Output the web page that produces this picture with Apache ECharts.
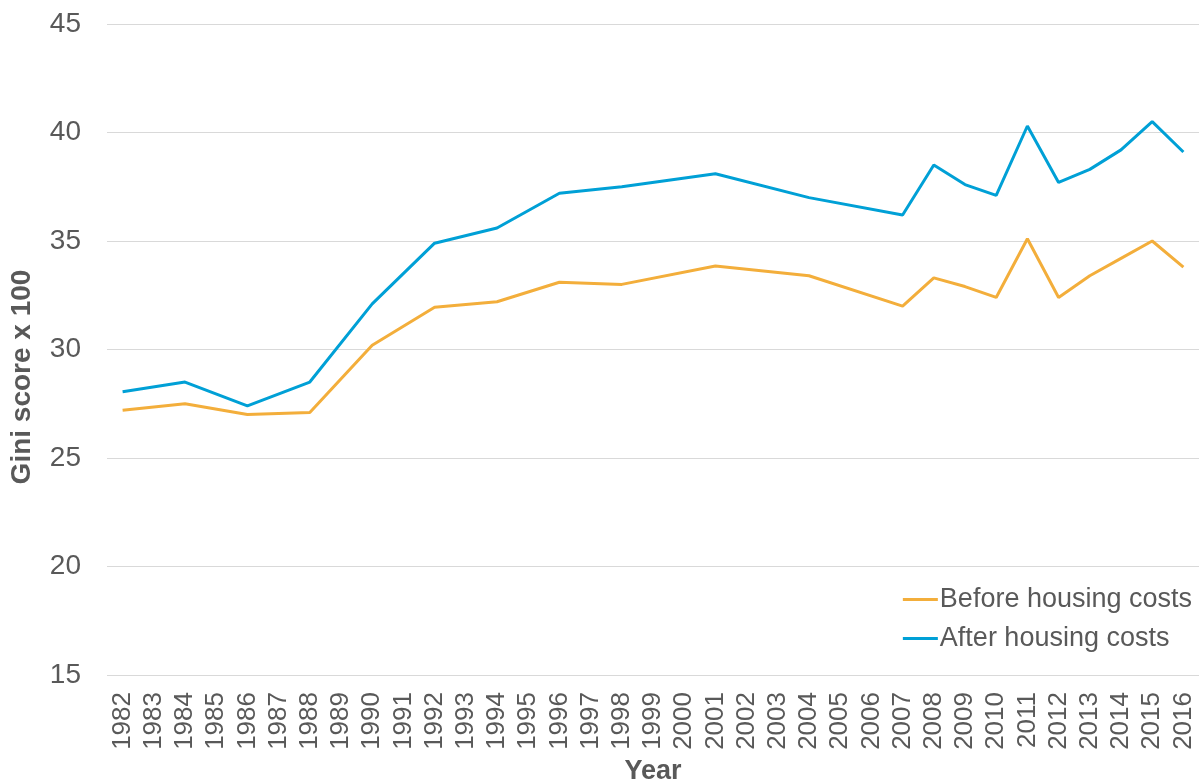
<html>
<head>
    <meta charset="utf-8" />
    <script src="https://cdn.jsdelivr.net/npm/echarts@6/dist/echarts.min.js"></script>
    <title>Gini score</title>
    <style>
        body { margin: 0; background: #fff; }
        #main { width: 1203px; height: 784px; }
    </style>
</head>
<body>
    <div id="main"></div>
    <script type="text/javascript">
        var years = ['1982', '1983', '1984', '1985', '1986', '1987', '1988', '1989', '1990', '1991',
            '1992', '1993', '1994', '1995', '1996', '1997', '1998', '1999', '2000', '2001',
            '2002', '2003', '2004', '2005', '2006', '2007', '2008', '2009', '2010', '2011',
            '2012', '2013', '2014', '2015', '2016'];

        // gaps (null) are years with no survey value, the line is joined across them
        var beforeHousing = [27.2, null, 27.5, null, 27.0, null, 27.1, null, 30.2, null,
            31.95, null, 32.2, null, 33.1, null, 33.0, null, null, 33.85,
            null, null, 33.4, null, null, 32.0, 33.3, 32.9, 32.4, 35.1,
            32.4, 33.4, 34.2, 35.0, 33.8];

        var afterHousing = [28.05, null, 28.5, null, 27.4, null, 28.5, null, 32.1, null,
            34.9, null, 35.6, null, 37.2, null, 37.5, null, null, 38.1,
            null, null, 37.0, null, null, 36.2, 38.5, 37.6, 37.1, 40.3,
            37.7, 38.3, 39.2, 40.5, 39.1];

        var chart = echarts.init(document.getElementById('main'));
        var txt = '#595959';
        var option = {
            animation: false,
            textStyle: { fontFamily: 'Liberation Sans' },
            grid: { left: 107, right: 4, top: 24, bottom: 109, outerBoundsMode: 'none', containLabel: false },
            // y axis title sits a bit below the plot centre, as in the original
            graphic: [{
                type: 'text',
                x: 22,
                y: 377,
                rotation: Math.PI / 2,
                style: {
                    text: 'Gini score x 100',
                    align: 'center',
                    verticalAlign: 'middle',
                    font: 'bold 28px "Liberation Sans"',
                    fill: txt
                }
            }],
            legend: {
                orient: 'vertical',
                right: 6,
                top: 581,
                icon: 'rect',
                itemWidth: 35,
                itemHeight: 3,
                itemGap: 12,
                textStyle: { fontSize: 27, color: txt, padding: [0, 0, 0, -3] },
                data: ['Before housing costs', 'After housing costs']
            },
            xAxis: {
                type: 'category',
                data: years,
                boundaryGap: true,
                name: 'Year',
                nameLocation: 'middle',
                nameGap: 81,
                nameTextStyle: { fontSize: 27, fontWeight: 'bold', color: txt },
                axisLine: { show: false },
                axisTick: { show: false },
                axisLabel: { rotate: 90, interval: 0, fontSize: 26, color: txt, margin: 17 }
            },
            yAxis: {
                type: 'value',
                min: 15,
                max: 45,
                interval: 5,
                axisLine: { show: false },
                axisTick: { show: false },
                axisLabel: { fontSize: 28, color: txt, margin: 26 },
                splitLine: { lineStyle: { color: '#d9d9d9', width: 1 } }
            },
            series: [{
                name: 'Before housing costs',
                type: 'line',
                data: beforeHousing,
                connectNulls: true,
                symbol: 'none',
                itemStyle: { color: '#F3AE3B' },
                lineStyle: { color: '#F3AE3B', width: 3 }
            }, {
                name: 'After housing costs',
                type: 'line',
                data: afterHousing,
                connectNulls: true,
                symbol: 'none',
                itemStyle: { color: '#00A0D6' },
                lineStyle: { color: '#00A0D6', width: 3 }
            }]
        };
        chart.setOption(option);
    </script>
</body>
</html>
